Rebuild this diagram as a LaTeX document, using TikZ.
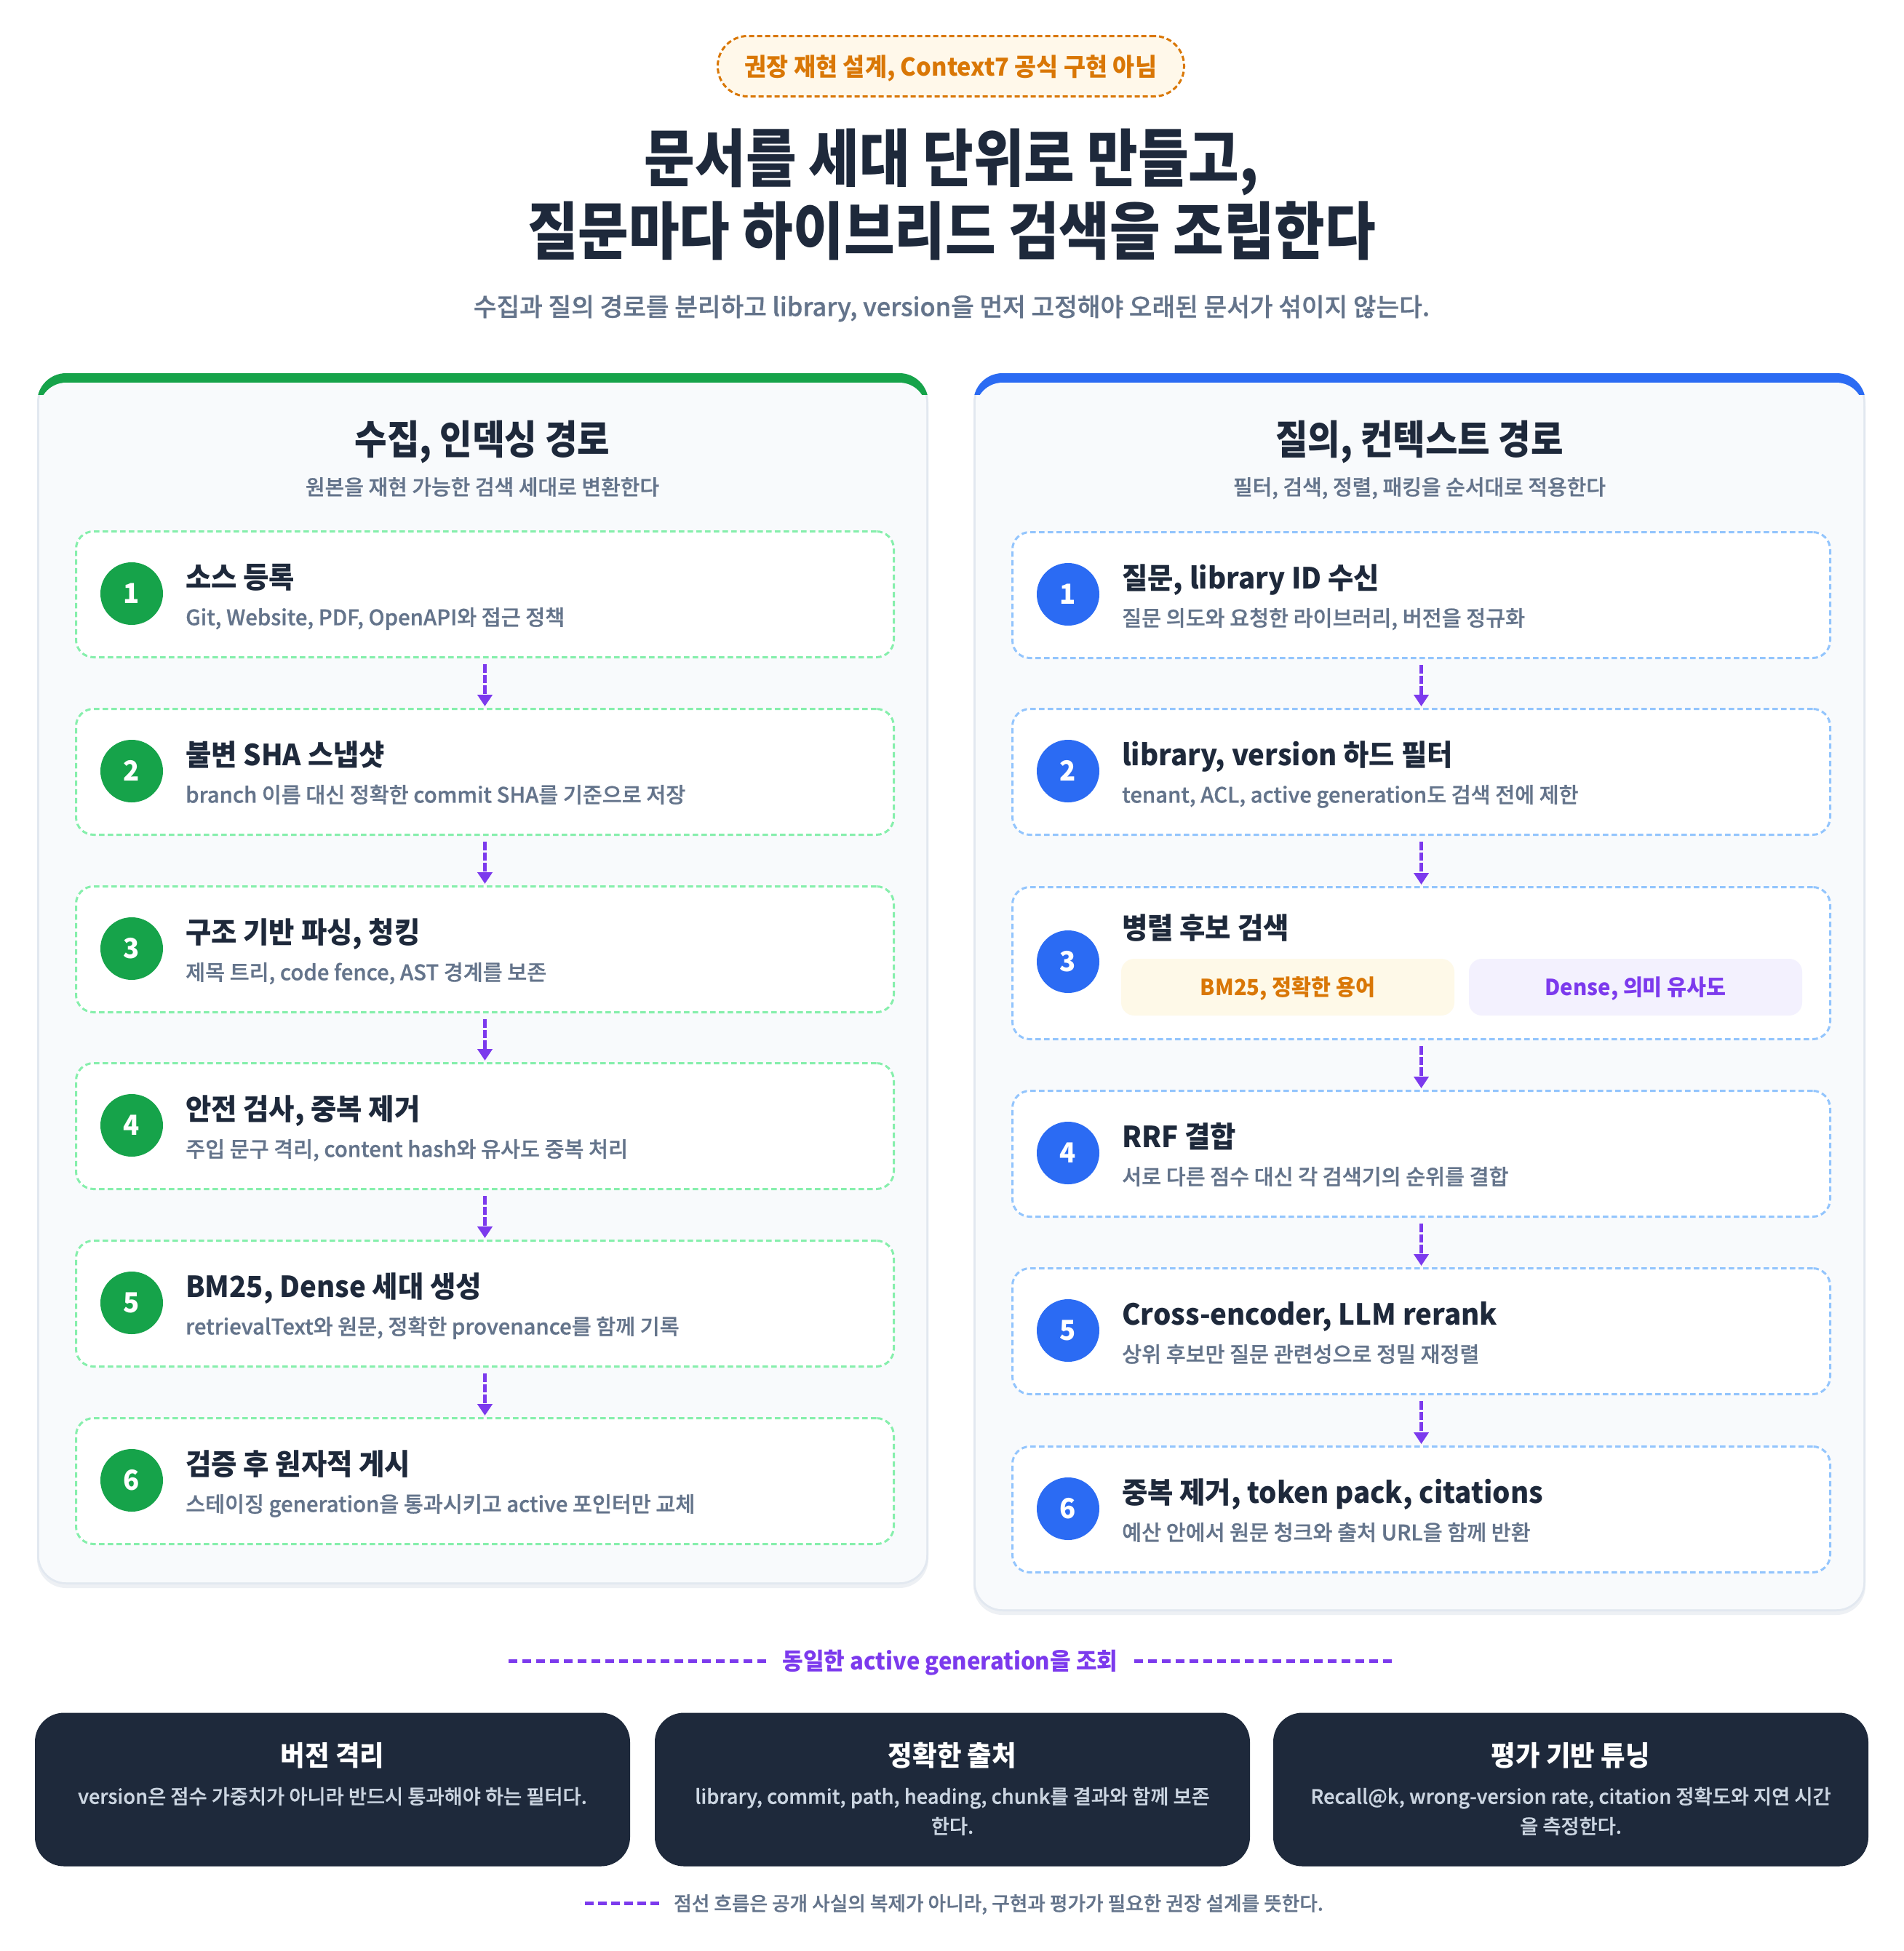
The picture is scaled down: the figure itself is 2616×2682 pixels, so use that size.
\documentclass[tikz,border=0pt]{standalone}
\usepackage{fontspec}
\setmainfont{Noto Sans CJK KR}[FakeStretch=0.96]
\newfontfamily\titlefont{Noto Sans CJK KR}[FakeStretch=0.88]
\newfontfamily\medfont{Noto Sans CJK KR Medium}[FakeStretch=1.0, FakeBold=0.8]
\usetikzlibrary{arrows.meta}
\definecolor{navy}{HTML}{1E293B}
\definecolor{slate}{HTML}{64748B}
\definecolor{grn}{HTML}{16A34A}
\definecolor{grndash}{HTML}{86EFAC}
\definecolor{blu}{HTML}{2B6BF3}
\definecolor{bludash}{HTML}{93C5FD}
\definecolor{purp}{HTML}{7C3AED}
\definecolor{orng}{HTML}{D97706}
\definecolor{badgefill}{HTML}{FFF8EA}
\definecolor{cardbg}{HTML}{F8FAFC}
\definecolor{cardline}{HTML}{E2E8F0}
\definecolor{shadowc}{HTML}{EDF0F4}
\definecolor{darkdesc}{HTML}{CBD5E1}
\definecolor{bmfill}{HTML}{FEF9E8}
\definecolor{dnfill}{HTML}{F3F1FE}
\newcommand{\fsz}[1]{\fontsize{#1}{#1}\selectfont}
\newcommand{\drawcard}[5]{%
  \fill[shadowc, rounded corners=40pt] (#1,#2+6) rectangle (#3,#4+5);
  \fill[cardline, rounded corners=40pt] (#1,#2) rectangle (#3,#4);
  \fill[cardbg, rounded corners=37pt] (#1+3,#2+3) rectangle (#3-3,#4-3);
  \begin{scope}
    \clip[rounded corners=40pt] (#1,#2) rectangle (#3,#4);
    \fill[#5] (#1-5,#2-5) rectangle (#3+5,#2+30);
    \fill[cardbg, rounded corners=37pt] (#1+3,#2+13) rectangle (#3-3,#4-3);
  \end{scope}}
\newcommand{\mkstep}[8]{%
  \node[stepbox, draw=#5] (#1) at (#2,#3) {};
  \node[numc, fill=#4] (#1n) at (#2+78,#3+87) {#6};
  \node[stitle] (#1t) at (#2+152,#3+64) {#7};
  \node[sdesc] (#1d) at (#2+152,#3+119) {#8};}
\begin{document}
\begin{tikzpicture}[x=1pt,y=-1pt,
  txt/.style={inner sep=0pt, text height=#1, text depth=0pt},
  stepbox/.style={line width=3pt, dash pattern=on 7.5pt off 4.5pt, rounded corners=24pt, fill=white, minimum width=1124pt, minimum height=173pt, anchor=north west, inner sep=0pt},
  numc/.style={circle, minimum size=86pt, inner sep=0pt, text=white, text height=27.6pt, text depth=0pt, font=\bfseries\fsz{38}},
  stitle/.style={txt=31.2pt, anchor=west, text=navy, font=\bfseries\fsz{40}},
  sdesc/.style={txt=22.8pt, anchor=west, text=slate, font=\medfont\fsz{29.3}},
  flow/.style={purp, line width=5.5pt, dash pattern=on 11.5pt off 3pt, -{Triangle[length=16pt,width=20pt]}, shorten <=8pt, shorten >=2pt},
  subbox/.style={rounded corners=18pt, minimum width=458pt, minimum height=78pt, inner sep=0pt, text height=23.8pt, text depth=0pt, font=\bfseries\fsz{30.5}},
  darkbox/.style={fill=navy, rounded corners=40pt, minimum width=818pt, minimum height=211pt, inner sep=0pt},
  dtitle/.style={txt=29.6pt, text=white, font=\bfseries\fsz{38}},
  ddesc/.style={txt=21.3pt, text=darkdesc, font=\medfont\fsz{27.3}}
]
\useasboundingbox[fill=white] (0,0) rectangle (2616,2682);

% header
\node[draw=orng, fill=badgefill, dash pattern=on 7pt off 4pt, line width=3pt, rounded corners=41pt, minimum width=641pt, minimum height=83pt, inner sep=0pt, text=orng, text height=26.5pt, text depth=0pt, font=\bfseries\fsz{34}] (badge) at (1307,91) {권장 재현 설계, Context7 공식 구현 아님};
\node[txt=67pt, text=navy, font=\titlefont\bfseries\fsz{86}] (title1) at (1308,216) {문서를 세대 단위로 만들고,};
\node[txt=67pt, text=navy, font=\titlefont\bfseries\fsz{86}] (title2) at (1308,316) {질문마다 하이브리드 검색을 조립한다};
\node[txt=26.8pt, text=slate, font=\medfont\fsz{34.4}] (subtitle) at (1308,421) {수집과 질의 경로를 분리하고 library, version을 먼저 고정해야 오래된 문서가 섞이지 않는다.};

% cards
\drawcard{51}{513}{1276}{2178}{grn}
\drawcard{1338}{513}{2564}{2215}{blu}
\node[txt=42.9pt, text=navy, font=\titlefont\bfseries\fsz{55}] (lhead) at (663,603) {수집, 인덱싱 경로};
\node[txt=22.6pt, text=slate, font=\medfont\fsz{29}] (lsub) at (663,669) {원본을 재현 가능한 검색 세대로 변환한다};
\node[txt=42.9pt, text=navy, font=\titlefont\bfseries\fsz{55}] (rhead) at (1951,603) {질의, 컨텍스트 경로};
\node[txt=22.6pt, text=slate, font=\medfont\fsz{29}] (rsub) at (1951,669) {필터, 검색, 정렬, 패킹을 순서대로 적용한다};

% left steps
\mkstep{L1}{103}{729}{grn}{grndash}{1}{소스 등록}{Git, Website, PDF, OpenAPI와 접근 정책}
\mkstep{L2}{103}{973}{grn}{grndash}{2}{불변 SHA 스냅샷}{branch 이름 대신 정확한 commit SHA를 기준으로 저장}
\mkstep{L3}{103}{1217}{grn}{grndash}{3}{구조 기반 파싱, 청킹}{제목 트리, code fence, AST 경계를 보존}
\mkstep{L4}{103}{1460}{grn}{grndash}{4}{안전 검사, 중복 제거}{주입 문구 격리, content hash와 유사도 중복 처리}
\mkstep{L5}{103}{1704}{grn}{grndash}{5}{BM25, Dense 세대 생성}{retrievalText와 원문, 정확한 provenance를 함께 기록}
\mkstep{L6}{103}{1948}{grn}{grndash}{6}{검증 후 원자적 게시}{스테이징 generation을 통과시키고 active 포인터만 교체}

% right steps
\mkstep{R1}{1390}{730}{blu}{bludash}{1}{질문, library ID 수신}{질문 의도와 요청한 라이브러리, 버전을 정규화}
\mkstep{R2}{1390}{973}{blu}{bludash}{2}{library, version 하드 필터}{tenant, ACL, active generation도 검색 전에 제한}
\node[stepbox, draw=bludash, minimum height=209pt] (R3) at (1390,1218) {};
\node[numc, fill=blu] (R3n) at (1468,1322) {3};
\node[stitle] (R3t) at (1542,1275) {병렬 후보 검색};
\node[subbox, fill=bmfill, text=orng] (R3a) at (1770,1357) {BM25, 정확한 용어};
\node[subbox, fill=dnfill, text=purp] (R3b) at (2248,1357) {Dense, 의미 유사도};
\mkstep{R4}{1390}{1498}{blu}{bludash}{4}{RRF 결합}{서로 다른 점수 대신 각 검색기의 순위를 결합}
\mkstep{R5}{1390}{1742}{blu}{bludash}{5}{Cross-encoder, LLM rerank}{상위 후보만 질문 관련성으로 정밀 재정렬}
\mkstep{R6}{1390}{1987}{blu}{bludash}{6}{중복 제거, token pack, citations}{예산 안에서 원문 청크와 출처 URL을 함께 반환}

% flows
\draw[flow] (L1) -- (L2);
\draw[flow] (L2) -- (L3);
\draw[flow] (L3) -- (L4);
\draw[flow] (L4) -- (L5);
\draw[flow] (L5) -- (L6);
\draw[flow] (R1) -- (R2);
\draw[flow] (R2) -- (R3);
\draw[flow] (R3) -- (R4);
\draw[flow] (R4) -- (R5);
\draw[flow] (R5) -- (R6);

% shared label
\node[txt=25.3pt, text=purp, font=\bfseries\fsz{32.4}] (mid) at (1306,2283) {동일한 active generation을 조회};
\draw[purp, line width=5pt, dash pattern=on 12pt off 7pt] ([xshift=-22pt]mid.west) -- ++(-360,0);
\draw[purp, line width=5pt, dash pattern=on 12pt off 7pt] ([xshift=22pt]mid.east) -- ++(360,0);

% bottom boxes
\node[darkbox] (D1) at (457,2460) {};
\node[darkbox] (D2) at (1309,2460) {};
\node[darkbox] (D3) at (2159,2460) {};
\node[dtitle] (D1t) at (457,2413) {버전 격리};
\node[ddesc] (D1d) at (457,2469) {version은 점수 가중치가 아니라 반드시 통과해야 하는 필터다.};
\node[dtitle] (D2t) at (1309,2413) {정확한 출처};
\node[ddesc] (D2d) at (1309,2469) {library, commit, path, heading, chunk를 결과와 함께 보존};
\node[ddesc] (D2e) at (1309,2510) {한다.};
\node[dtitle] (D3t) at (2159,2413) {평가 기반 튜닝};
\node[ddesc] (D3d) at (2159,2469) {Recall@k, wrong-version rate, citation 정확도와 지연 시간};
\node[ddesc] (D3e) at (2159,2510) {을 측정한다.};

% footer
\node[txt=20.8pt, anchor=west, text=slate, font=\medfont\fsz{26.7}] (foot) at (926,2616) {점선 흐름은 공개 사실의 복제가 아니라, 구현과 평가가 필요한 권장 설계를 뜻한다.};
\draw[purp, line width=5pt, dash pattern=on 12pt off 6pt] ([xshift=-20pt]foot.west) -- ++(-108,0);
\end{tikzpicture}
\end{document}
